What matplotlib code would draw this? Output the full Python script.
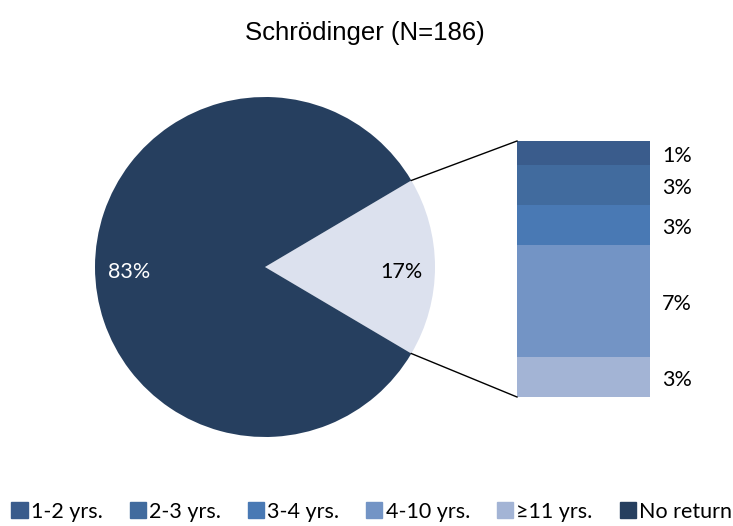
import numpy as np
import matplotlib.pyplot as plt
from matplotlib.patches import Patch

# data
title = "Schrödinger (N=186)"
pie_labels = ["Returned", "No return"]
pie_values = [17, 83]
pie_pct = ["17%", "83%"]

bar_cats = ["1-2 yrs.", "2-3 yrs.", "3-4 yrs.", "4-10 yrs.", "\u226511 yrs."]
bar_values = [1.6, 2.7, 2.7, 7.5, 2.7]
bar_pct = ["1%", "3%", "3%", "7%", "3%"]

bar_colors = ["#3a5c8c", "#416b9e", "#4979b4", "#7394c5", "#a3b4d5"]
pie_colors = ["#dce1ee", "#263f5f"]

font_txt = ["Lato", "DejaVu Sans"]

fig = plt.figure(figsize=(7.33, 5.26), dpi=100)
ax = fig.add_axes([0, 0, 1, 1])

# pie
cx, cy, r = 265, 259, 170
half = pie_values[0] / sum(pie_values) * 180
wedges, _ = ax.pie(pie_values, colors=pie_colors, startangle=-half,
                   center=(cx, cy), radius=r, frame=True,
                   wedgeprops=dict(linewidth=0))
ax.set_xlim(0, 733)
ax.set_ylim(0, 526)
ax.axis("off")
for w, txt, col in zip(wedges, pie_pct, ["black", "white"]):
    ang = np.deg2rad((w.theta1 + w.theta2) / 2)
    ax.text(cx + 0.80 * r * np.cos(ang), cy + 0.80 * r * np.sin(ang) - 5, txt,
            ha="center", va="center", color=col, fontsize=15.5, family=font_txt)

# stacked bar (bar of pie)
bx, bw = 583.5, 133
bottom_y, top_y = 129, 385
scale = (top_y - bottom_y) / sum(bar_values)
cur = top_y
for v, c, t in zip(bar_values, bar_colors, bar_pct):
    h = v * scale
    ax.bar(bx, h, width=bw, bottom=cur - h, color=c, linewidth=0)
    ax.text(bx + bw / 2 + 12, cur - h / 2 - 3, t, ha="left", va="center",
            fontsize=15.5, family=font_txt)
    cur -= h

# connector lines
a1 = np.deg2rad(half)
ax.plot([cx + r * np.cos(a1), bx - bw / 2], [cy + r * np.sin(a1), top_y],
        color="black", lw=1)
ax.plot([cx + r * np.cos(a1), bx - bw / 2], [cy - r * np.sin(a1), bottom_y],
        color="black", lw=1)

fig.text(0.498, 0.937, title, ha="center", va="center", fontsize=18.5,
         family="Liberation Sans")

handles = [Patch(color=c) for c in bar_colors + [pie_colors[1]]]
labels = bar_cats + [pie_labels[1]]
fig.legend(handles, labels, loc="center", bbox_to_anchor=(0.507, 0.027),
           ncol=6, frameon=False, handlelength=0.75, handleheight=0.75,
           handletextpad=0.15, columnspacing=1.25,
           prop=dict(family=font_txt, size=15.5))

fig.savefig("out.png", dpi=100)
